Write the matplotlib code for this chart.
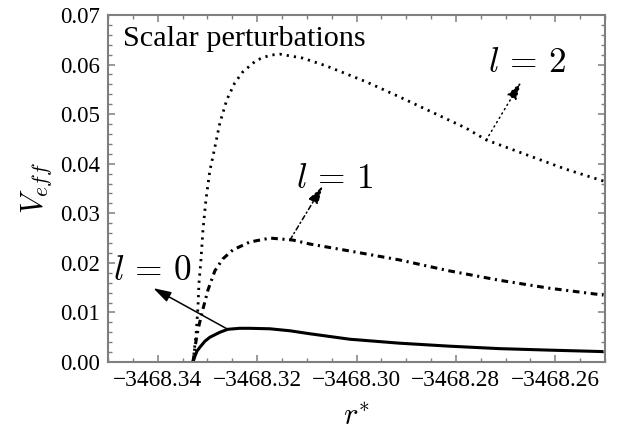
import matplotlib
matplotlib.use("Agg")
import matplotlib.pyplot as plt
from matplotlib.ticker import FixedLocator, MultipleLocator

SERIF = "Liberation Serif"
plt.rcParams["font.family"] = [SERIF, "DejaVu Serif"]
plt.rcParams["mathtext.fontset"] = "cm"

# Effective potential for scalar perturbations, l = 0, 1, 2
r_l0 = [-3468.3329, -3468.3325, -3468.3321, -3468.3315, -3468.3305, -3468.3295,
        -3468.3275, -3468.3259, -3468.3235, -3468.3215, -3468.3174, -3468.3134,
        -3468.3094, -3468.3014, -3468.2914, -3468.2814, -3468.2713, -3468.2613,
        -3468.2503]
V_l0 = [0.0, 0.0012, 0.0022, 0.0030, 0.0042, 0.0050, 0.0060, 0.0066, 0.0068,
        0.0068, 0.0067, 0.0063, 0.0057, 0.0046, 0.0038, 0.0032, 0.0027, 0.0024,
        0.0021]

r_l1 = [-3468.3329, -3468.3325, -3468.3319, -3468.3311, -3468.3299, -3468.3285,
        -3468.3269, -3468.3249, -3468.3215, -3468.3174, -3468.3128, -3468.3094,
        -3468.3014, -3468.2914, -3468.2814, -3468.2713, -3468.2613, -3468.2503]
V_l1 = [0.0, 0.0030, 0.0065, 0.0099, 0.0145, 0.0184, 0.0208, 0.0226, 0.0242,
        0.0250, 0.0246, 0.0238, 0.0224, 0.0206, 0.0184, 0.0165, 0.0149, 0.0135]

r_l2 = [-3468.3329, -3468.3327, -3468.3323, -3468.3319, -3468.3317, -3468.3313,
        -3468.3309, -3468.3303, -3468.3295, -3468.3289, -3468.3275, -3468.3261,
        -3468.3245, -3468.3229, -3468.3201, -3468.3174, -3468.3154, -3468.3108,
        -3468.3060, -3468.2980, -3468.2914, -3468.2848, -3468.2780, -3468.2739,
        -3468.2647, -3468.2579, -3468.2503]
V_l2 = [0.0, 0.0018, 0.0054, 0.0111, 0.0159, 0.0206, 0.0266, 0.0327, 0.0387,
        0.0414, 0.0482, 0.0529, 0.0563, 0.0585, 0.0609, 0.0619, 0.0621, 0.0613,
        0.0597, 0.0565, 0.0535, 0.0504, 0.0472, 0.0448, 0.0414, 0.0389, 0.0365]

x_ticks = [-3468.34, -3468.32, -3468.30, -3468.28, -3468.26]
x_tick_labels = ["\u22123468.34", "\u22123468.32", "\u22123468.30",
                 "\u22123468.28", "\u22123468.26"]
y_ticks = [0.00, 0.01, 0.02, 0.03, 0.04, 0.05, 0.06, 0.07]
y_tick_labels = ["0.00", "0.01", "0.02", "0.03", "0.04", "0.05", "0.06", "0.07"]

# label text, arrow tail (on curve), arrow tip, text centre
labels = [r"$l\,=\,0$", r"$l\,=\,1$", r"$l\,=\,2$"]
arrow_tail = [(-3468.3259, 0.0066), (-3468.3134, 0.0246), (-3468.2739, 0.0448)]
arrow_tip = [(-3468.3409, 0.0149), (-3468.3068, 0.0355), (-3468.2669, 0.0565)]
text_pos = [(-3468.3411, 0.0182), (-3468.3044, 0.0369), (-3468.2657, 0.0603)]

dashdot = (0, (2.2, 1.5, 0.7, 1.5))
dotted = (0, (0.8, 1.8))

frame = "#7f7f7f"
fig = plt.figure(figsize=(6.24, 4.36), dpi=100)
ax = fig.add_axes([0.1731, 0.1697, 0.7965, 0.7959])

ax.plot(r_l0, V_l0, color="black", lw=2.2, solid_capstyle="butt")
ax.plot(r_l1, V_l1, color="black", lw=2.2, linestyle=dashdot)
ax.plot(r_l2, V_l2, color="black", lw=2.0, linestyle=dotted)

ax.set_xlim(-3468.35, -3468.25)
ax.set_ylim(0.0, 0.07)

ax.xaxis.set_major_locator(FixedLocator(x_ticks))
ax.set_xticklabels(x_tick_labels, fontfamily=SERIF, fontsize=16.8)
ax.xaxis.set_minor_locator(MultipleLocator(0.005))
ax.yaxis.set_major_locator(FixedLocator(y_ticks))
ax.set_yticklabels(y_tick_labels, fontfamily=SERIF, fontsize=16.5)
ax.yaxis.set_minor_locator(MultipleLocator(0.002))

for s in ax.spines.values():
    s.set_color(frame)
    s.set_linewidth(1.5)
ax.tick_params(which="both", direction="in", top=True, right=True,
               color=frame, labelcolor="black")
ax.tick_params(which="major", length=5, width=1.1, pad=6)
ax.tick_params(which="minor", length=3, width=1.0)

ax.set_xlabel("$r^{*}$", fontsize=22, labelpad=8)
ax.set_ylabel("$V_{eff}$", fontsize=22, labelpad=4)

ax.text(0.030, 0.968, "Scalar perturbations", transform=ax.transAxes,
        fontsize=21.8, fontfamily=SERIF, ha="left", va="top")

styles = ["-", (0, (3.0, 2.0, 0.8, 2.0)), (0, (0.8, 2.5))]
for lab, tail, tip, tp, ls in zip(labels, arrow_tail, arrow_tip, text_pos, styles):
    ax.annotate("", xy=tip, xytext=tail,
                arrowprops=dict(arrowstyle="-|>,head_length=0.9,head_width=0.27",
                                color="black", lw=1.1, linestyle=ls,
                                shrinkA=0, shrinkB=0, mutation_scale=12))
    ax.text(tp[0], tp[1], lab, fontsize=25.5, ha="center", va="center")

fig.savefig("out.png", dpi=100)
